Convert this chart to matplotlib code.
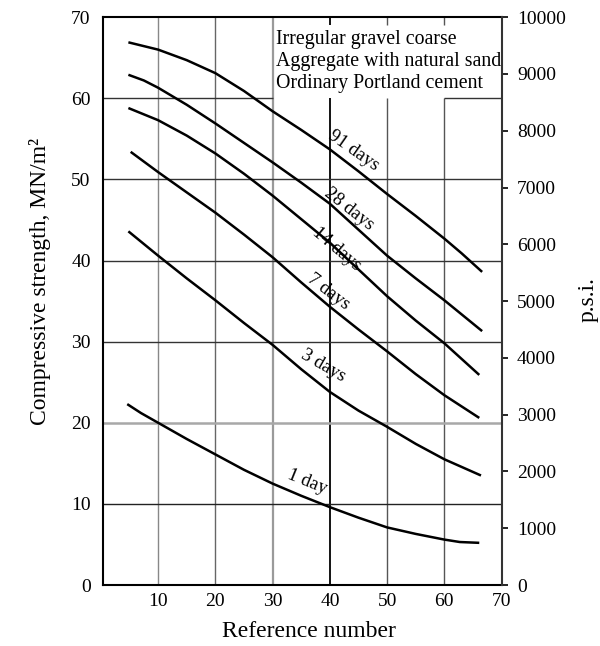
import matplotlib
matplotlib.use("Agg")
import matplotlib.pyplot as plt

plt.rcParams["font.family"] = ["Liberation Serif", "DejaVu Serif"]

# curves: reference number vs strength (MN/m2)
x_91 = [4.8, 10, 15, 20, 25, 30, 35, 40, 45, 50, 55, 60, 63, 66.6]
y_91 = [66.9, 66.0, 64.7, 63.1, 60.9, 58.4, 56.1, 53.7, 51.0, 48.2, 45.5, 42.7, 40.9, 38.6]
x_28 = [4.8, 7.5, 10, 15, 20, 25, 30, 35, 40, 45, 50, 55, 60, 66.6]
y_28 = [62.9, 62.2, 61.3, 59.2, 56.9, 54.5, 52.1, 49.6, 47.0, 43.8, 40.6, 37.8, 35.1, 31.3]
x_14 = [4.8, 10, 15, 20, 25, 30, 35, 40, 45, 50, 55, 60, 66.1]
y_14 = [58.8, 57.3, 55.4, 53.2, 50.7, 48.0, 45.1, 42.2, 38.9, 35.6, 32.6, 29.8, 25.9]
x_7 = [5.2, 10, 15, 20, 25, 30, 35, 40, 45, 50, 55, 60, 66.1]
y_7 = [53.4, 50.9, 48.4, 45.9, 43.2, 40.4, 37.3, 34.3, 31.5, 28.8, 26.0, 23.4, 20.6]
x_3 = [4.8, 10, 15, 20, 25, 30, 35, 40, 45, 50, 55, 60, 66.4]
y_3 = [43.6, 40.6, 37.8, 35.1, 32.3, 29.6, 26.6, 23.8, 21.5, 19.5, 17.4, 15.5, 13.5]
x_1 = [4.6, 7, 10, 15, 20, 25, 30, 35, 40, 45, 50, 55, 60, 62.7, 66.1]
y_1 = [22.3, 21.2, 20.0, 18.0, 16.1, 14.2, 12.5, 11.0, 9.6, 8.3, 7.1, 6.3, 5.6, 5.3, 5.2]

curve_names = ["91 days", "28 days", "14 days", "7 days", "3 days", "1 day"]
curve_x = [x_91, x_28, x_14, x_7, x_3, x_1]
curve_y = [y_91, y_28, y_14, y_7, y_3, y_1]
label_pos = [(44.2, 53.6), (43.4, 46.3), (41.2, 41.4), (39.8, 36.2), (38.8, 27.0), (36.0, 12.7)]
label_rot = [-35, -38, -40, -37, -30, -22]

x_ticks = [10, 20, 30, 40, 50, 60, 70]
y_ticks = [0, 10, 20, 30, 40, 50, 60, 70]
psi_ticks = list(range(0, 10001, 1000))

notes = ["Irregular gravel coarse", "Aggregate with natural sand", "Ordinary Portland cement"]

fig = plt.figure(figsize=(6.0, 6.46), dpi=100)
ax = fig.add_axes([0.172, 0.0944, 0.664, 0.879])
ax.set_xlim(0.4, 70)
ax.set_ylim(0, 70)

# grid, drawn by hand because the note box hides part of it
vcol = {10: "#888888", 20: "#666666", 30: "#9a9a9a", 40: "black", 50: "#555555", 60: "#555555"}
vlw = {10: 1.0, 20: 1.0, 30: 1.6, 40: 1.3, 50: 1.0, 60: 1.0}
for xv in [10, 20, 30]:
    ax.vlines(xv, 0, 70, color=vcol[xv], lw=vlw[xv], zorder=1)
for xv in [40, 50, 60]:
    ax.vlines(xv, 0, 60, color=vcol[xv], lw=vlw[xv], zorder=1)
    ax.vlines(xv, 69.0, 70, color=vcol[xv], lw=vlw[xv], zorder=1)
hcol = {10: "#222222", 20: "#a8a8a8", 30: "#333333", 40: "#333333", 50: "#333333", 60: "#333333"}
hlw = {10: 1.0, 20: 1.8, 30: 1.0, 40: 1.0, 50: 1.0, 60: 1.0}
for yv in [10, 20, 30, 40, 50]:
    ax.hlines(yv, 0.4, 70, color=hcol[yv], lw=hlw[yv], zorder=1)
ax.hlines(60, 0.4, 30, color=hcol[60], lw=1.0, zorder=1)
ax.hlines(60, 60, 70, color=hcol[60], lw=1.0, zorder=1)

for xs, ys in zip(curve_x, curve_y):
    ax.plot(xs, ys, color="black", lw=1.8, solid_capstyle="butt",
            solid_joinstyle="round", zorder=3)

for name, (lx, ly), rot in zip(curve_names, label_pos, label_rot):
    ax.text(lx, ly, name, rotation=rot, ha="center", va="center",
            fontsize=13.5, zorder=4)

for i, line in enumerate(notes):
    ax.text(30.6, 67.3 - i * 2.75, line, ha="left", va="center", fontsize=14.3, zorder=4)

ax.set_xticks(x_ticks)
ax.set_yticks(y_ticks)
ax.tick_params(axis="y", length=0, pad=9, labelsize=14)
ax.tick_params(axis="x", length=0, pad=6, labelsize=14)
for s in ["left", "bottom", "top"]:
    ax.spines[s].set_linewidth(1.5)
ax.spines["right"].set_visible(False)

ax.set_xlabel("Reference number", fontsize=17)
ax.xaxis.set_label_coords(0.516, -0.064)
ax.set_ylabel("Compressive strength, MN/m²", fontsize=17)
ax.yaxis.set_label_coords(-0.13, 0.534)

ax2 = ax.twinx()
ax2.set_ylim(0, 10000)
ax2.set_yticks(psi_ticks)
ax2.tick_params(axis="y", direction="out", length=4, width=1.2, pad=7, labelsize=14, colors="black")
ax2.spines["right"].set_linewidth(1.5)
ax2.spines["right"].set_color("#333333")
for s in ["left", "bottom", "top"]:
    ax2.spines[s].set_visible(False)
fig.text(588 / 600, 1 - 300 / 646, "p.s.i.", rotation=90, ha="center", va="center", fontsize=17)

fig.savefig("out.png", dpi=100)
